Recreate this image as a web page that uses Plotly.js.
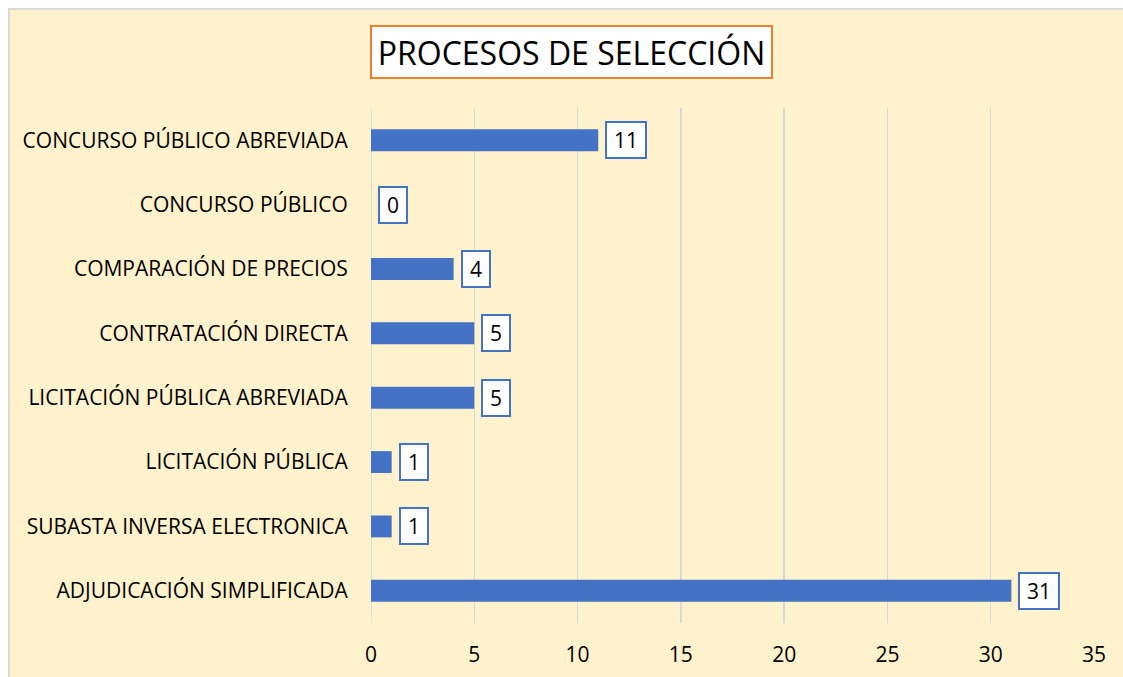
<!DOCTYPE html>
<html><head><meta charset="utf-8">
<script src="https://cdn.plot.ly/plotly-3.0.1.min.js"></script>
<style>
html,body{margin:0;padding:0;background:#fff;overflow:hidden;width:1123px;height:677px;}
#wrap{position:absolute;left:8px;top:8px;width:1200px;height:720px;border-left:2px solid #d9d9d9;border-top:2px solid #d9d9d9;background:#FFF2CC;}
#chart{width:1113px;height:667px;}
</style></head>
<body><div id="wrap"><div id="chart"></div></div>
<script>
const categories = ["CONCURSO PÚBLICO ABREVIADA","CONCURSO PÚBLICO","COMPARACIÓN DE PRECIOS","CONTRATACIÓN DIRECTA","LICITACIÓN PÚBLICA ABREVIADA","LICITACIÓN PÚBLICA","SUBASTA INVERSA ELECTRONICA","ADJUDICACIÓN SIMPLIFICADA"];
const values = [11,0,4,5,5,1,1,31];
const xTicks = [0,5,10,15,20,25,30,35];
const chartTitle = "PROCESOS DE SELECCIÓN";

const FONT = "'Open Sans', sans-serif";

const labelAnns = categories.map((c,i)=>({
  x: values[i], y: c, xref:'x', yref:'y', xanchor:'left', yanchor:'middle',
  xshift: 7, showarrow:false, text: String(values[i]),
  width: String(values[i]).length > 1 ? 38 : 26, height: 34, align:'center', valign:'middle',
  font:{family:FONT,size:21,color:'#000'},
  bgcolor:'#ffffff', bordercolor:'#4472C4', borderwidth:2, borderpad:0
}));

const titleAnn = {
  x: 0.2773, y: 1, xref:'paper', yref:'paper', xanchor:'center', yanchor:'middle',
  yshift: 56, showarrow:false, text: chartTitle,
  width: 399, height: 50, align:'center', valign:'middle',
  font:{family:FONT,size:32,color:'#000'},
  bgcolor:'#ffffff', bordercolor:'#ED7D31', borderwidth:2, borderpad:0
};

Plotly.newPlot('chart', [{
  type:'bar', orientation:'h', x: values, y: categories,
  marker:{color:'#4472C4'}, width:0.34, hoverinfo:'none'
}], {
  width:1113, height:667,
  paper_bgcolor:'#FFF2CC', plot_bgcolor:'#FFF2CC',
  margin:{l:361, r:29, t:98, b:54},
  showlegend:false,
  font:{family:FONT, size:21, color:'#000'},
  xaxis:{range:[0,35], tickvals:xTicks, ticktext:xTicks.map(String), showgrid:true, gridcolor:'#d9d9d9', gridwidth:1.5,
         zeroline:false, showline:false, ticks:'outside', ticklen:13, tickcolor:'rgba(0,0,0,0)', fixedrange:true},
  yaxis:{type:'category', autorange:'reversed', showgrid:false, zeroline:false, showline:false,
         ticks:'outside', ticklen:18, tickcolor:'rgba(0,0,0,0)', fixedrange:true},
  shapes:[{type:'line', xref:'x', yref:'paper', x0:0, x1:0, y0:0, y1:1, line:{color:'#d9d9d9', width:1.5}, layer:'below'}],
  annotations:[titleAnn, ...labelAnns]
}, {displayModeBar:false, staticPlot:true});
</script></body></html>
